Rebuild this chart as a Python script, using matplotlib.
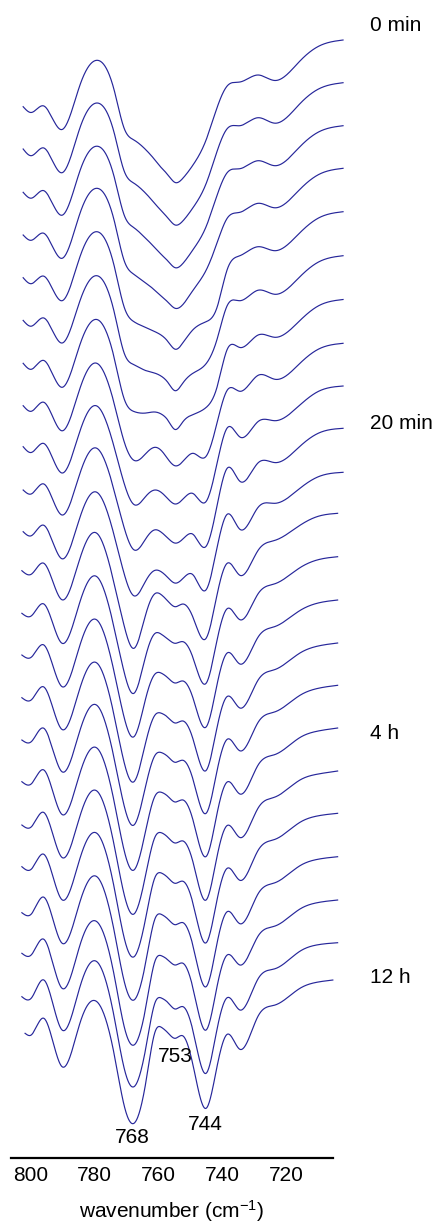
import numpy as np
import matplotlib
matplotlib.use("Agg")
import matplotlib.pyplot as plt

plt.rcParams['font.family'] = ['Liberation Sans', 'DejaVu Sans']
plt.rcParams['mathtext.fontset'] = 'custom'
plt.rcParams['mathtext.rm'] = 'Liberation Sans'
plt.rcParams['mathtext.it'] = 'Liberation Sans:italic'

# ---------------- data ----------------
# wavenumbers (cm-1) at which each spectrum was read (first/last replaced per curve)
wavenumber = [802.4, 799.9, 795.9, 790.2, 784.6, 779.3, 773.9, 770.8, 767.7, 763.9,
              761.1, 758.9, 757.0, 754.8, 752.3, 749.2, 745.1, 741.7, 738.5, 734.5,
              728.8, 723.5, 715.7, 710.0, 702.2]

start_wn = [802.4] * 11 + [802.8] * 11 + [801.8]
end_wn = [702.2] * 11 + [703.9] * 11 + [705.4]

# depth of each spectrum below its right-end baseline (arb. units)
depth = [
    [66.7, 72.5, 66.0, 89.5, 45, 20.3, 50, 88, 100, 110, 120, 128.5, 135, 142.5, 138, 125, 100, 68, 46, 42, 35, 40.5, 21, 6.5, 0],
    [66.3, 73.0, 65.3, 90.0, 45, 20.3, 50, 88, 100.5, 111, 121, 129, 135.5, 142.3, 138, 125, 101, 69, 46, 43, 35, 40.5, 21, 6.5, 0],
    [66.6, 72.5, 65.0, 89.5, 45, 20.5, 51, 89, 102, 113, 122, 129.5, 135.5, 142, 137.5, 124, 101, 70, 47, 43, 35, 40, 21, 6.5, 0],
    [66.7, 72.0, 65.0, 90.0, 45, 20.0, 52, 92, 106, 115, 122, 128.5, 134, 140, 136, 122, 102, 75, 50, 44, 35, 39.5, 21, 6.5, 0],
    [66.0, 72.0, 64.5, 89.0, 45, 20.0, 54, 95, 110, 116, 120, 124, 130, 137.5, 131, 118, 110, 96, 58, 44, 35, 39, 21, 6.5, 0],
    [64.7, 70.5, 62.3, 87.3, 45, 20.0, 56, 97, 109, 115, 117.5, 121, 127, 135, 127, 117.5, 108, 84, 50, 45, 34.5, 38.6, 21, 6.5, 0],
    [63.8, 69.8, 61.0, 87.8, 45, 20.0, 58, 99, 112, 113.5, 112.5, 115, 121, 130, 122, 115, 108, 88, 50, 48, 35.5, 37.8, 21, 6.5, 0],
    [62.4, 68.0, 59.0, 87.5, 45, 20.0, 60, 98, 117, 110, 104, 108, 116, 122.5, 118, 110, 113, 80, 47, 48, 32, 36, 20, 6, 0],
    [60.7, 66.5, 57.5, 87.0, 45, 20.0, 61, 97, 118.5, 110, 104, 107, 113, 118, 113, 107.5, 115.5, 78, 42, 51, 35.5, 34.7, 19, 5.5, 0],
    [61.7, 65.7, 55.7, 86.7, 45, 20.0, 62, 99, 121.5, 110, 101.5, 104.5, 110, 114.8, 110.5, 106, 118, 78, 40, 53, 34.5, 34.3, 18, 5, 0],
    [59.4, 63.5, 53.0, 86.5, 45, 20.0, 63, 101, 123.5, 108, 98, 100, 105.5, 110.8, 106, 102.5, 117.5, 76, 42, 57, 35, 31, 16, 4.5, 0],
    [57.4, 61.0, 50.0, 86.5, 45, 20.0, 70, 112, 135, 100, 80.3, 82, 88, 93.4, 90.7, 104, 125, 82, 50, 62, 37, 27, 12, 3, 0],
    [56.6, 59.3, 47.3, 86.6, 45, 20.0, 71, 115, 136.6, 98, 76.7, 78, 82.5, 86.6, 85, 101, 126.6, 84, 52, 63, 37, 27, 11, 3, 0],
    [55.0, 57.3, 45.0, 86.7, 45, 20.0, 72, 117, 136.7, 97, 74, 73.5, 78, 83, 81, 98, 127, 85, 53, 64, 37, 26.5, 10.5, 3, 0],
    [54.7, 57.0, 44.0, 86.5, 45, 20.0, 72.5, 119, 138.7, 98, 72, 70.5, 74.5, 80, 78, 96, 127.5, 85, 53.5, 65, 37, 26.5, 10, 3, 0],
    [54.7, 56.5, 43.0, 86.5, 45, 20.0, 73, 120, 139.7, 99, 70, 67.5, 71.5, 77, 75, 94, 128, 86, 54, 65.5, 37, 26.5, 10, 3, 0],
    [53.7, 56.0, 42.0, 86.5, 45, 20.0, 73.5, 122, 142, 101, 68, 64.5, 68.5, 74, 72, 92, 128.5, 86, 54, 66, 37, 26.5, 9.5, 3, 0],
    [54.0, 56.0, 41.5, 86.5, 45, 20.0, 74, 123, 143, 102, 66, 62, 66.5, 72, 70, 91, 129, 86, 54.5, 66.5, 37, 26, 9, 3, 0],
    [53.4, 56.0, 41.0, 86.5, 45, 20.0, 74, 124, 143.5, 103, 64, 60, 64.5, 70, 68, 90, 129.5, 87, 55, 67, 37, 26, 9, 2.5, 0],
    [56.0, 57.5, 40.5, 86.5, 45, 20.0, 74, 124, 143.3, 104, 62, 58, 62.5, 68, 66, 89, 130, 87, 55, 67, 37, 26, 9, 2.5, 0],
    [53.3, 55.0, 39.3, 88.3, 45, 21.7, 75, 126, 145, 106, 61, 56, 60, 65, 63.3, 88, 130, 87, 55, 65, 36, 26, 9, 2.5, 0],
    [54.0, 55.6, 37.3, 87.3, 44, 19.0, 74, 125, 144, 104, 60, 55.6, 60, 66.3, 64, 88, 130.6, 87, 55, 67.3, 36, 26, 8.5, 2, 0],
    [53.3, 55.0, 38.3, 86.7, 43, 21.7, 74, 125, 143.3, 101, 52, 47.7, 53, 58.3, 56, 85, 128.3, 87, 54.3, 69.3, 36, 25, 8.3, 2, 0],
]

# vertical offsets of the stacked spectra (baseline of each trace)
offsets = [0, -42.7, -85.7, -128.3, -171.7, -215.7, -259.5, -303.3, -346, -388.3,
           -432.3, -473.3, -516.7, -560, -603, -645.3, -688, -731, -773.3, -816.7,
           -860, -902.7, -940]

time_labels = ["0 min", "20 min", "4 h", "12 h"]
time_label_curve = [0, 9, 16, 22]

peak_labels = ["768", "753", "744"]
peak_label_wn = [768.2, 754.8, 745.3]

xticks = [800, 780, 760, 740, 720]


# ---------------- smooth rendering (natural cubic spline through read points) ----------------
def cubic_spline(x, y, xn):
    x = np.asarray(x, float)
    y = np.asarray(y, float)
    n = len(x)
    h = np.diff(x)
    A = np.zeros((n, n))
    b = np.zeros(n)
    A[0, 0] = 1.0
    A[-1, -1] = 1.0
    for k in range(1, n - 1):
        A[k, k - 1] = h[k - 1]
        A[k, k] = 2 * (h[k - 1] + h[k])
        A[k, k + 1] = h[k]
        b[k] = 6 * ((y[k + 1] - y[k]) / h[k] - (y[k] - y[k - 1]) / h[k - 1])
    M = np.linalg.solve(A, b)
    idx = np.clip(np.searchsorted(x, xn) - 1, 0, n - 2)
    hi = h[idx]
    t1 = x[idx + 1] - xn
    t0 = xn - x[idx]
    return (M[idx] * t1**3 / (6 * hi) + M[idx + 1] * t0**3 / (6 * hi)
            + (y[idx] / hi - M[idx] * hi / 6) * t1
            + (y[idx + 1] / hi - M[idx + 1] * hi / 6) * t0)


fig = plt.figure(figsize=(4.37, 12.24), dpi=100)
ax = fig.add_axes([0.0245, 0.0539, 0.7382, 0.9461])

color = '#26269a'
for i, dep in enumerate(depth):
    wn = list(wavenumber)
    wn[0] = start_wn[i]
    wn[-1] = end_wn[i]
    x = np.array(wn[::-1])
    yv = offsets[i] - np.array(dep[::-1])
    xd = np.linspace(x[0], x[-1], 900)
    ax.plot(xd, cubic_spline(x, yv, xd), color=color, lw=0.85, clip_on=False)

ax.set_xlim(806.3, 705.25)
ax.set_ylim(-1118, 40)

for s in ['top', 'right', 'left']:
    ax.spines[s].set_visible(False)
ax.spines['bottom'].set_linewidth(1.6)
ax.set_yticks([])
ax.set_xticks(xticks)
ax.tick_params(axis='x', length=0, pad=5.5, labelsize=15)
ax.set_xlabel(r"wavenumber (cm$^{\mathrm{-1}}$)", fontsize=15, labelpad=10)

# time labels
label_shift = [15, 5, -5, 3]
for lab, ci, sh in zip(time_labels, time_label_curve, label_shift):
    ax.text(693.8, offsets[ci] + sh, lab, fontsize=15, ha='left', va='center', clip_on=False)

# peak labels below the last spectrum
peak_label_y = [-1097.7, -1016.7, -1084.3]
for lab, wn, yy in zip(peak_labels, peak_label_wn, peak_label_y):
    ax.text(wn, yy, lab, fontsize=15, ha='center', va='center')

fig.savefig("out.png", dpi=100)
